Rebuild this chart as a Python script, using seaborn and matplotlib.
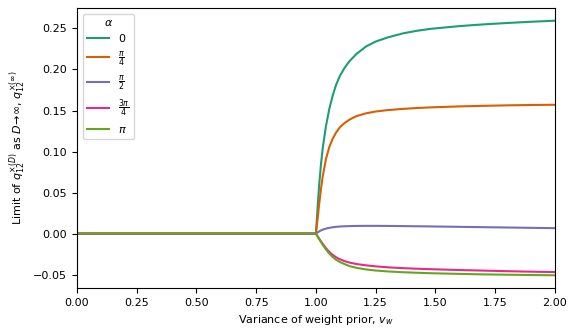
import numpy as np
import pandas as pd
import matplotlib
matplotlib.use("Agg")
import matplotlib.pyplot as plt
import seaborn as sns

# x grid (variance of weight prior)
v_w = [0.0, 0.5, 1.0, 1.007, 1.014, 1.021, 1.028, 1.042, 1.056, 1.07, 1.084, 1.10,
       1.12, 1.14, 1.17, 1.21, 1.25, 1.30, 1.365, 1.42, 1.48, 1.6, 1.7, 1.8, 1.9, 2.0]

alpha_labels = ["0", r"$\frac{\pi}{4}$", r"$\frac{\pi}{2}$", r"$\frac{3\pi}{4}$", r"$\pi$"]

q_alpha_0 = [0, 0, 0, 0.032, 0.061, 0.084, 0.103, 0.131, 0.152, 0.168, 0.181, 0.192,
             0.202, 0.210, 0.219, 0.228, 0.234, 0.239, 0.244, 0.247, 0.2495, 0.2528,
             0.2549, 0.2566, 0.2581, 0.2594]
q_alpha_pi4 = [0, 0, 0, 0.018, 0.037, 0.054, 0.069, 0.091, 0.1055, 0.1155, 0.123, 0.1295,
               0.1348, 0.1388, 0.1432, 0.1466, 0.1488, 0.1505, 0.152, 0.153, 0.1538, 0.155,
               0.1557, 0.1563, 0.1567, 0.157]
q_alpha_pi2 = [0, 0, 0, 0.0015, 0.0028, 0.0039, 0.0048, 0.0062, 0.0071, 0.0078, 0.0083, 0.0087,
               0.0090, 0.0092, 0.0094, 0.0095, 0.0095, 0.0094, 0.0092, 0.0090, 0.0088, 0.0083,
               0.0079, 0.0075, 0.0071, 0.0067]
q_alpha_3pi4 = [0, 0, 0, -0.0032, -0.0063, -0.0093, -0.0122, -0.0177, -0.0222, -0.0258, -0.0287,
                -0.0312, -0.0335, -0.0352, -0.0370, -0.0386, -0.0398, -0.0410, -0.0420, -0.0427,
                -0.0433, -0.0443, -0.0450, -0.0457, -0.0463, -0.0468]
q_alpha_pi = [0, 0, 0, -0.0035, -0.0069, -0.0102, -0.0133, -0.0192, -0.0243, -0.0284, -0.0317,
              -0.0345, -0.0371, -0.0395, -0.0416, -0.0436, -0.0449, -0.0460, -0.0470, -0.0476,
              -0.0482, -0.0490, -0.0496, -0.0500, -0.0504, -0.0507]

series = [q_alpha_0, q_alpha_pi4, q_alpha_pi2, q_alpha_3pi4, q_alpha_pi]

rows = []
for lab, vals in zip(alpha_labels, series):
    for x, y in zip(v_w, vals):
        rows.append({"v_w": x, "q": y, "alpha": lab})
df = pd.DataFrame(rows)

fig = plt.figure(figsize=(5.81, 3.32), dpi=100)
ax = fig.add_axes([0.1325, 0.1325, 0.8225, 0.8435])

sns.lineplot(data=df, x="v_w", y="q", hue="alpha", hue_order=alpha_labels,
             palette="Dark2", linewidth=1.5, ax=ax)

ax.set_xlim(0, 2)
ax.set_xticks([0, 0.25, 0.5, 0.75, 1.0, 1.25, 1.5, 1.75, 2.0])
ax.set_xticklabels([f"{t:.2f}" for t in ax.get_xticks()], fontsize=8)
ax.set_yticks([-0.05, 0, 0.05, 0.10, 0.15, 0.20, 0.25])
ax.set_yticklabels([f"{t:.2f}" if t >= 0 else "\u22120.05" for t in ax.get_yticks()], fontsize=8)
ax.set_xlabel(r"Variance of weight prior, $v_w$", fontsize=8)
ax.set_ylabel(r"Limit of $q_{12}^{\times(D)}$ as $D\!\to\!\infty$, $q_{12}^{\times(\infty)}$", fontsize=8)

leg = ax.legend(title=r"$\alpha$", loc="upper left", fontsize=8, title_fontsize=8)

fig.savefig("out.png", dpi=100)
